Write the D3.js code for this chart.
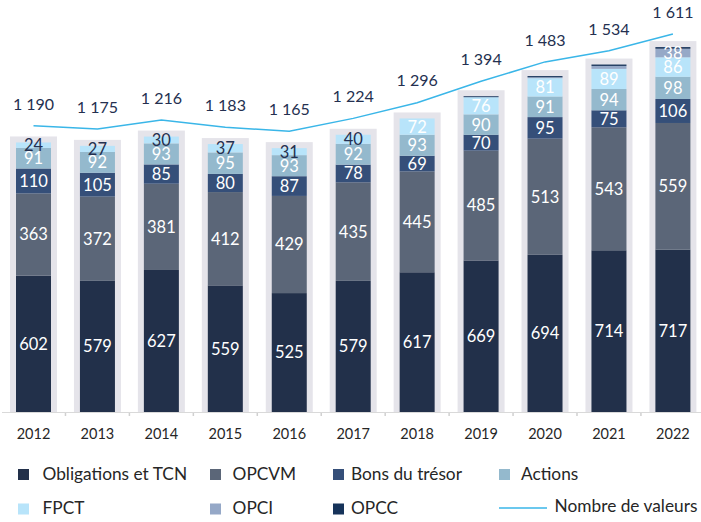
<!DOCTYPE html>
<html>
<head>
<meta charset="utf-8">
<script src="https://cdn.jsdelivr.net/npm/d3@7"></script>
<style>
body { margin: 0; background: #fff; }
text { font-family: Lato, "Open Sans", sans-serif; }
</style>
</head>
<body>
<div id="chart"></div>
<script>
var years = ["2012", "2013", "2014", "2015", "2016", "2017", "2018", "2019", "2020", "2021", "2022"];
var obligations = [602, 579, 627, 559, 525, 579, 617, 669, 694, 714, 717];
var opcvm = [363, 372, 381, 412, 429, 435, 445, 485, 513, 543, 559];
var bons = [110, 105, 85, 80, 87, 78, 69, 70, 95, 75, 106];
var actions = [91, 92, 93, 95, 93, 92, 93, 90, 91, 94, 98];
var fpct = [24, 27, 30, 37, 31, 40, 72, 76, 81, 89, 86];
var opci = [0, 0, 0, 0, 0, 0, 0, 0, 4, 13, 38];
var opcc = [0, 0, 0, 0, 0, 0, 0, 4, 5, 6, 7];
var nombre = [1190, 1175, 1216, 1183, 1165, 1224, 1296, 1394, 1483, 1534, 1611];

var seriesNames = ["Obligations et TCN", "OPCVM", "Bons du trésor", "Actions", "FPCT", "OPCI", "OPCC"];
var seriesColors = ["#22304a", "#5b6678", "#354f79", "#94b9cd", "#b8e4fa", "#95a8c7", "#16335a"];
var lineName = "Nombre de valeurs";
var lineColor = "#3ab6e8";

var width = 701, height = 522;
var baseline = 412;

var rows = years.map(function (yr, i) {
  return {
    year: yr,
    s0: obligations[i], s1: opcvm[i], s2: bons[i], s3: actions[i],
    s4: fpct[i], s5: opci[i], s6: opcc[i]
  };
});
var keys = ["s0", "s1", "s2", "s3", "s4", "s5", "s6"];
var stacked = d3.stack().keys(keys)(rows);

var x = d3.scalePoint().domain(years).range([33.5, 672.9]);
var y = d3.scaleLinear().domain([0, 1800]).range([baseline, baseline - 1800 * 0.2265]);
var yLine = d3.scaleLinear().domain([0, 1800]).range([385.2, 385.2 - 1800 * 0.218]);

var barW = 35, pad = 6;

var svg = d3.select("#chart").append("svg")
  .attr("width", width)
  .attr("height", height);

// grey frame behind each stack
svg.append("g").selectAll("rect").data(years).enter().append("rect")
  .attr("x", function (d) { return x(d) - barW / 2 - pad; })
  .attr("width", barW + pad * 2)
  .attr("y", function (d, i) { return y(nombre[i]) - pad; })
  .attr("height", function (d, i) { return baseline - y(nombre[i]) + pad; })
  .attr("fill", "#e5e4ea");

// stacked segments
var layers = svg.append("g").selectAll("g").data(stacked).enter().append("g")
  .attr("fill", function (d, k) { return seriesColors[k]; });

layers.selectAll("rect").data(function (d) { return d; }).enter().append("rect")
  .attr("x", function (d) { return x(d.data.year) - barW / 2; })
  .attr("width", barW)
  .attr("y", function (d) { return y(d[1]); })
  .attr("height", function (d) { return y(d[0]) - y(d[1]); });

// segment labels
stacked.forEach(function (layer, k) {
  if (k === 6) return;
  svg.append("g").selectAll("text").data(layer).enter()
    .filter(function (d) { return (d[1] - d[0]) >= 20; })
    .append("text")
    .attr("x", function (d) { return x(d.data.year); })
    .attr("y", function (d) { return (y(d[0]) + y(d[1])) / 2; })
    .attr("dy", "0.36em")
    .attr("text-anchor", "middle")
    .attr("font-size", 16.5)
    .attr("fill", function (d) {
      if (k === 4 && (d[1] - d[0]) < 50) return "#243050";
      return "#ffffff";
    })
    .text(function (d) { return d[1] - d[0]; });
});

// axis
svg.append("line")
  .attr("x1", 2).attr("x2", width)
  .attr("y1", baseline + 0.5).attr("y2", baseline + 0.5)
  .attr("stroke", "#d9d9d9").attr("stroke-width", 1);

var step = x.step();
svg.append("g").selectAll("line").data(years.slice(1)).enter().append("line")
  .attr("x1", function (d) { return x(d) - step / 2; })
  .attr("x2", function (d) { return x(d) - step / 2; })
  .attr("y1", baseline + 1).attr("y2", baseline + 4)
  .attr("stroke", "#d0d0d0").attr("stroke-width", 1.5);

svg.append("g").selectAll("text").data(years).enter().append("text")
  .attr("x", function (d) { return x(d); })
  .attr("y", 433.5)
  .attr("dy", "0.36em")
  .attr("text-anchor", "middle")
  .attr("font-size", 14.5)
  .attr("fill", "#262626")
  .text(function (d) { return d; });

// total line
var line = d3.line()
  .x(function (d, i) { return x(years[i]); })
  .y(function (d) { return yLine(d); });

svg.append("path")
  .datum(nombre)
  .attr("d", line)
  .attr("fill", "none")
  .attr("stroke", lineColor)
  .attr("stroke-width", 1.5);

var fmt = function (v) { return d3.format(",")(v).replace(",", " "); };
svg.append("g").selectAll("text").data(nombre).enter().append("text")
  .attr("x", function (d, i) { return x(years[i]); })
  .attr("y", function (d) { return yLine(d) - 22; })
  .attr("dy", "0.36em")
  .attr("text-anchor", "middle")
  .attr("font-size", 16)
  .attr("fill", "#243050")
  .text(fmt);

// legend
var legX = [18, 210, 333, 499, 18, 210, 333];
var legTextX = [42.5, 232.6, 351, 521, 42.5, 232.6, 351];
var legY = [474.5, 474.5, 474.5, 474.5, 509, 509, 509];

var leg = svg.append("g");
seriesNames.forEach(function (name, k) {
  leg.append("rect")
    .attr("x", legX[k]).attr("y", legY[k] - 5.5)
    .attr("width", 11).attr("height", 11)
    .attr("fill", seriesColors[k]);
  leg.append("text")
    .attr("x", legTextX[k]).attr("y", legY[k] - 1)
    .attr("dy", "0.36em")
    .attr("font-size", 17.3)
    .attr("fill", "#262626")
    .text(name);
});
leg.append("line")
  .attr("x1", 499).attr("x2", 547)
  .attr("y1", 508).attr("y2", 508)
  .attr("stroke", lineColor).attr("stroke-width", 1.5);
leg.append("text")
  .attr("x", 554.6).attr("y", 505.5)
  .attr("dy", "0.36em")
  .attr("font-size", 17.3)
  .attr("fill", "#262626")
  .text(lineName);
</script>
</body>
</html>
